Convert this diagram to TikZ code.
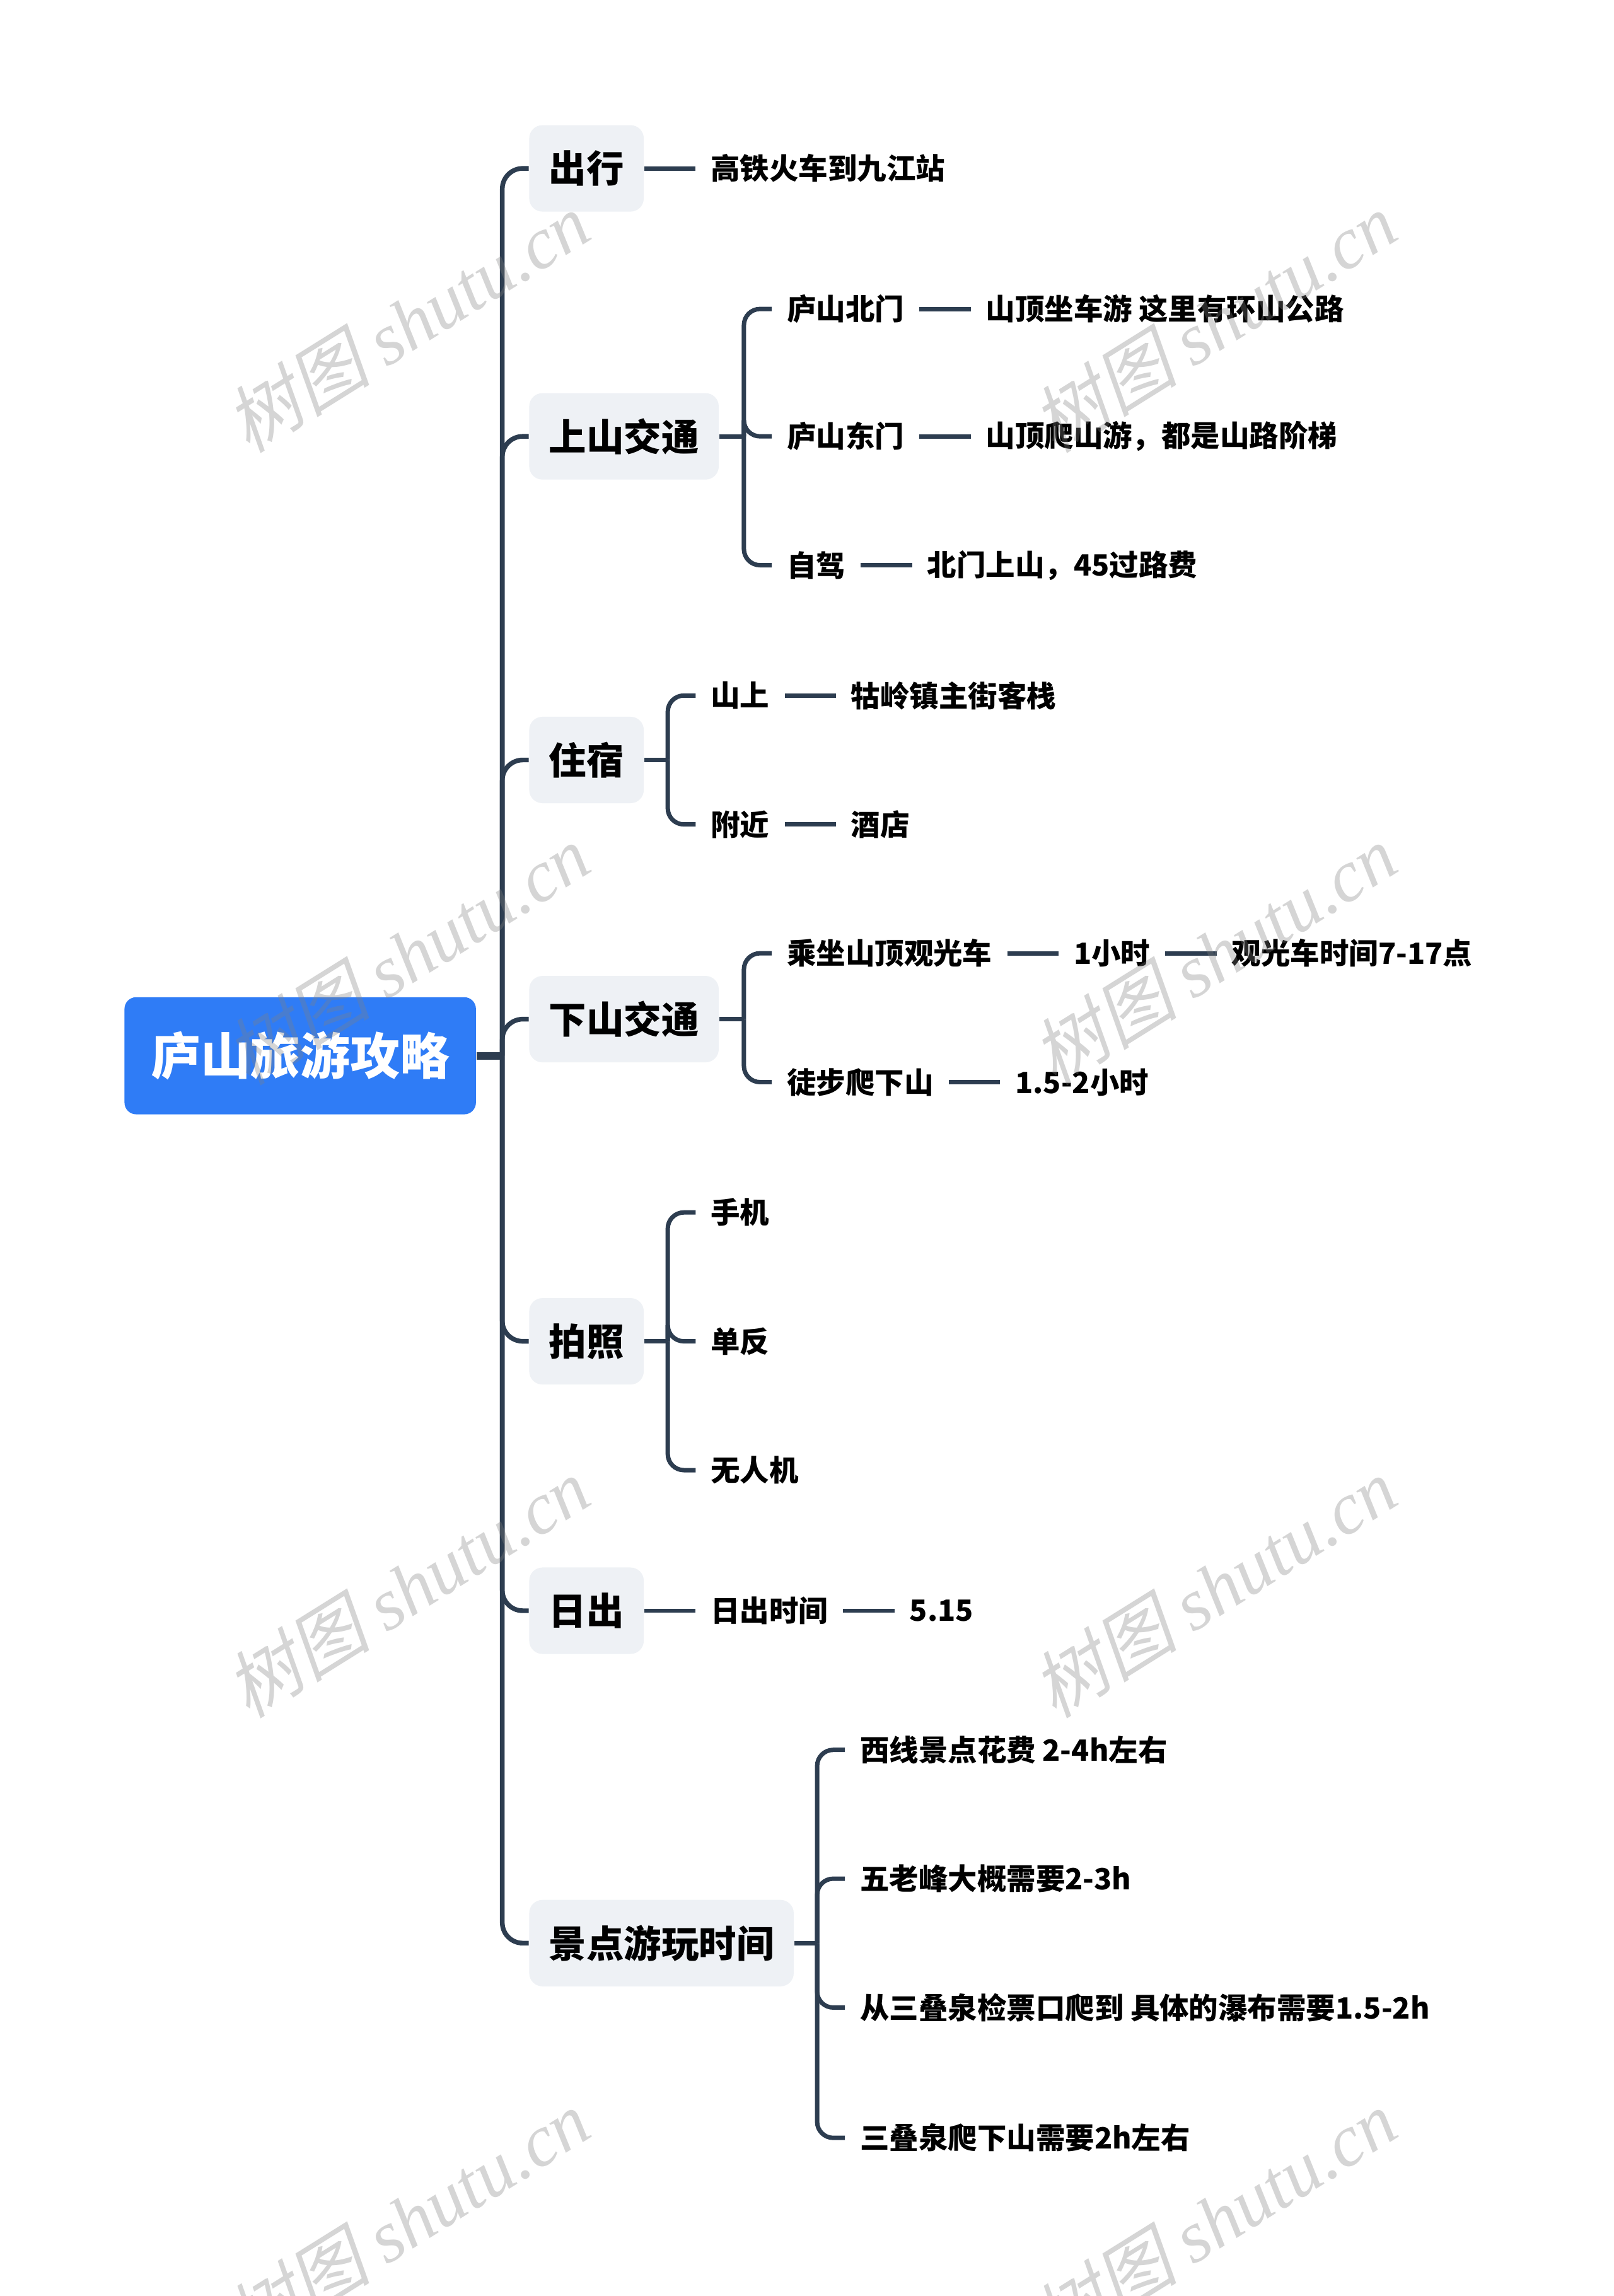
\documentclass[tikz,border=0pt]{standalone}
\usepackage{fontspec}
\setmainfont{Noto Sans CJK SC}
\newfontfamily\wmlat{Liberation Serif}
\newfontfamily\wmcjk{Noto Sans CJK SC}[FakeSlant=0.22]
\usetikzlibrary{positioning}
\definecolor{rootblue}{HTML}{2F7CF6}
\definecolor{linecol}{HTML}{2D3D50}
\definecolor{boxgray}{HTML}{EEF1F5}
\begin{document}
\begin{tikzpicture}[x=0.5pt,y=-0.5pt,
  rootnode/.style={fill=rootblue, rounded corners=4pt, text=white,
    font=\fontsize{17}{20}\selectfont\bfseries, minimum width=120pt, minimum height=40pt, inner sep=0pt},
  topic/.style={fill=boxgray, rounded corners=4.5pt, anchor=west,
    font=\fontsize{12.8}{15}\selectfont\bfseries, inner xsep=6.75pt, inner ysep=0pt, minimum height=29.5pt},
  leaf/.style={anchor=west, font=\fontsize{10}{12}\selectfont\bfseries, inner xsep=5pt, inner ysep=1pt},
  conn/.style={draw=linecol, line width=1.6pt},
  brk/.style={draw=linecol, line width=1.5pt, rounded corners=5.5pt},
  wm/.style={text=gray, opacity=0.33, rotate=32, font=\fontsize{25}{28}\selectfont, inner sep=0pt}
]
\useasboundingbox (0,0) rectangle (1102,1568);
\fill[white] (0,0) rectangle (1102,1568);

% root
\node[rootnode] (root) at (205,721) {庐山旅游攻略};
\coordinate (tr) at (343,721);
\draw[draw=linecol, line width=2.6pt] (root.east) -- (tr);

% topics
\node[topic] (t1) at (361,115) {出行};
\node[topic] (t2) at (361,298) {上山交通};
\node[topic] (t3) at (361,519) {住宿};
\node[topic] (t4) at (361,696) {下山交通};
\node[topic] (t5) at (361,916) {拍照};
\node[topic] (t6) at (361,1100) {日出};
\node[topic] (t7) at (361,1327) {景点游玩时间};
\foreach \t in {t1,t2,t3,t4,t5,t6,t7}
  \draw[conn, rounded corners=7pt] (tr) |- (\t.west);

% 出行
\node[leaf] (a1) at (475,115) {高铁火车到九江站};
\draw[brk] (t1.east) -- (a1.west);

% 上山交通
\coordinate (b2) at (508,298);
\draw[brk] (t2.east) -- (b2);
\node[leaf] (b21) at (527,211) {庐山北门};
\node[leaf] (b22) at (527,298) {庐山东门};
\node[leaf] (b23) at (527,386) {自驾};
\foreach \c in {b21,b22,b23} \draw[brk] (b2) |- (\c.west);
\node[leaf, right=17.5pt of b21] (c21) {山顶坐车游 这里有环山公路};
\node[leaf, right=17.5pt of b22] (c22) {山顶爬山游，都是山路阶梯};
\node[leaf, right=17.5pt of b23] (c23) {北门上山，45过路费};
\draw[brk] (b21.east) -- (c21.west);
\draw[brk] (b22.east) -- (c22.west);
\draw[brk] (b23.east) -- (c23.west);

% 住宿
\coordinate (b3) at (456,519);
\draw[brk] (t3.east) -- (b3);
\node[leaf] (b31) at (475,475) {山上};
\node[leaf] (b32) at (475,563) {附近};
\foreach \c in {b31,b32} \draw[brk] (b3) |- (\c.west);
\node[leaf, right=17.5pt of b31] (c31) {牯岭镇主街客栈};
\node[leaf, right=17.5pt of b32] (c32) {酒店};
\draw[brk] (b31.east) -- (c31.west);
\draw[brk] (b32.east) -- (c32.west);

% 下山交通
\coordinate (b4) at (508,696);
\draw[brk] (t4.east) -- (b4);
\node[leaf] (b41) at (527,651) {乘坐山顶观光车};
\node[leaf] (b42) at (527,739) {徒步爬下山};
\foreach \c in {b41,b42} \draw[brk] (b4) |- (\c.west);
\node[leaf, right=17.5pt of b41] (c41) {1小时};
\node[leaf, right=17.5pt of c41] (d41) {观光车时间7-17点};
\node[leaf, right=17.5pt of b42] (c42) {1.5-2小时};
\draw[brk] (b41.east) -- (c41.west);
\draw[brk] (c41.east) -- (d41.west);
\draw[brk] (b42.east) -- (c42.west);

% 拍照
\coordinate (b5) at (456,916);
\draw[brk] (t5.east) -- (b5);
\node[leaf] (b51) at (475,828) {手机};
\node[leaf] (b52) at (475,916) {单反};
\node[leaf] (b53) at (475,1004) {无人机};
\foreach \c in {b51,b52,b53} \draw[brk] (b5) |- (\c.west);

% 日出
\node[leaf] (b61) at (475,1100) {日出时间};
\draw[brk] (t6.east) -- (b61.west);
\node[leaf, right=17.5pt of b61] (c61) {5.15};
\draw[brk] (b61.east) -- (c61.west);

% 景点游玩时间
\coordinate (b7) at (558,1327);
\draw[brk] (t7.east) -- (b7);
\node[leaf] (b71) at (577,1195) {西线景点花费 2-4h左右};
\node[leaf] (b72) at (577,1283) {五老峰大概需要2-3h};
\node[leaf] (b73) at (577,1371) {从三叠泉检票口爬到 具体的瀑布需要1.5-2h};
\node[leaf] (b74) at (577,1460) {三叠泉爬下山需要2h左右};
\foreach \c in {b71,b72,b73,b74} \draw[brk] (b7) |- (\c.west);

% watermarks
\foreach \wx/\wy [count=\i] in {278/220, 829/220, 278/652, 829/652, 278/1084, 829/1084, 278/1516, 829/1516}
  \node[wm] (wm\i) at (\wx,\wy) {{\wmcjk 树图} {\wmlat\itshape shutu.cn}};
\end{tikzpicture}
\end{document}
